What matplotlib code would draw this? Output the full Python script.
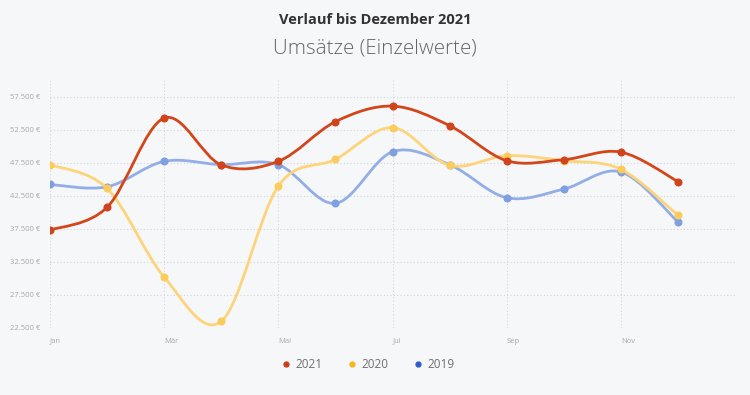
import numpy as np
import matplotlib
matplotlib.use("Agg")
import matplotlib.pyplot as plt
from matplotlib.path import Path
from matplotlib.patches import PathPatch
from matplotlib.lines import Line2D
from matplotlib.ticker import FuncFormatter

plt.rcParams['font.family'] = ['Open Sans', 'DejaVu Sans']

# Monatsumsätze in Euro
monate = ["Jan", "Feb", "Mär", "Apr", "Mai", "Jun", "Jul", "Aug", "Sep", "Okt", "Nov", "Dez"]
umsatz_2021 = [37300, 40750, 54250, 47150, 47700, 53700, 56050, 53100, 47800, 47950, 49100, 44650]
umsatz_2020 = [47200, 43600, 30200, 23500, 43950, 48000, 52800, 47100, 48550, 47800, 46500, 39550]
umsatz_2019 = [44200, 43850, 47700, 47200, 47200, 41350, 49150, 47200, 42200, 43500, 46100, 38550]

jahre = ["2021", "2020", "2019"]
linien_farben = ["#d2461a", "#fdd47a", "#93aee6"]
punkt_farben = ["#d0441b", "#fccc5a", "#7f9fe0"]
legende_farben = ["#cc3f18", "#fbb518", "#2f5bd6"]

bg = "#f6f7f9"


def glatte_kurve(x, y, t=1.0):
    # Catmull-Rom als kubische Bezier-Segmente
    pts = np.column_stack([x, y]).astype(float)
    n = len(pts)
    verts = [pts[0]]
    codes = [Path.MOVETO]
    for i in range(n - 1):
        p0 = pts[i - 1] if i > 0 else pts[i]
        p1 = pts[i]
        p2 = pts[i + 1]
        p3 = pts[i + 2] if i + 2 < n else pts[i + 1]
        c1 = p1 + (p2 - p0) / 6 * t
        c2 = p2 - (p3 - p1) / 6 * t
        verts += [c1, c2, p2]
        codes += [Path.CURVE4] * 3
    return Path(verts, codes)


fig = plt.figure(figsize=(7.5, 3.95), dpi=100, facecolor=bg)
ax = fig.add_axes([50 / 750, 1 - 328 / 395, 685 / 750, 248 / 395], facecolor=bg)

x = np.arange(len(monate))
serien = [umsatz_2021, umsatz_2020, umsatz_2019]
for k in [2, 1, 0]:
    werte = serien[k]
    pfad = glatte_kurve(x, werte)
    ax.add_patch(PathPatch(pfad, facecolor="none", edgecolor=linien_farben[k],
                           lw=2.0, zorder=3 + (2 - k), capstyle="round"))
    ax.plot(x, werte, "o", color=punkt_farben[k], ms=4.8, zorder=4 + (2 - k))

ax.set_xlim(0, 12)
ax.set_ylim(22500, 60000)
ax.set_yticks(np.arange(22500, 57501, 5000))
ax.yaxis.set_major_formatter(FuncFormatter(lambda v, p: f"{int(v):,} €".replace(",", ".")))
ax.set_xticks(x[::2])
ax.set_xticklabels(monate[::2], ha="left")

ax.grid(True, color="#d3d5da", linestyle=(0, (1, 2)), lw=0.8)
ax.set_axisbelow(True)
for s in ax.spines.values():
    s.set_visible(False)
ax.tick_params(length=0, labelsize=5.5, colors="#a5a8ad", pad=7)
ax.tick_params(axis="y", pad=7)

fig.text(0.5, 1 - 20 / 395, "Verlauf bis Dezember 2021", ha="center", va="center",
         fontsize=10.5, fontweight="bold", color="#333333")
fig.text(0.5, 1 - 48 / 395, "Umsätze (Einzelwerte)", ha="center", va="center",
         fontsize=14.8, fontweight="light", color="#666666")

griffe = [Line2D([], [], marker="o", ls="none", ms=3.5, color=c) for c in legende_farben]
fig.legend(griffe, jahre, loc="center", bbox_to_anchor=(0.49, 1 - 365 / 395), ncol=3,
           frameon=False, fontsize=8.5, labelcolor="#6f6f6f", handletextpad=0.3,
           columnspacing=2.0, handlelength=1.0)

fig.savefig("out.png", dpi=100, facecolor=bg)
